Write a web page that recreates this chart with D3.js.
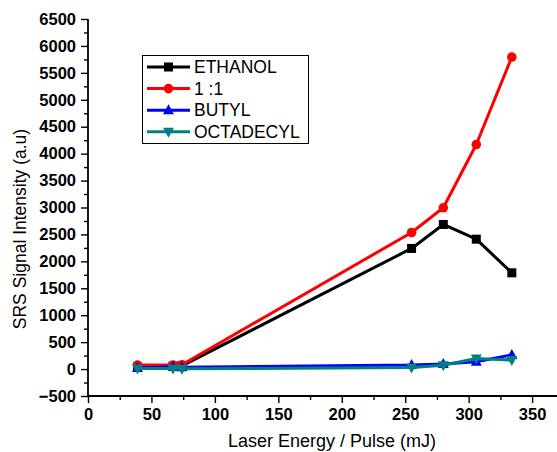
<!DOCTYPE html>
<html><head><meta charset="utf-8">
<script src="https://cdn.jsdelivr.net/npm/d3@7"></script>
<style>body{margin:0;background:#fff}svg{display:block}</style>
</head><body>
<svg id="c" width="557" height="452"></svg>
<script>
const energy = [39, 67, 74, 255, 280, 306, 334];
const ethanol = [40, 55, 60, 2240, 2685, 2412, 1787];
const ratio11 = [75, 75, 80, 2536, 2995, 4169, 5794];
const butyl = [20, 45, 35, 74, 95, 135, 262];
const octadecyl = [12, 12, 5, 28, 70, 195, 167];
const seriesNames = ["ETHANOL", "1 :1", "BUTYL", "OCTADECYL"];
const seriesColors = ["#000000", "#ff0000", "#0000ff", "#008080"];
const seriesShapes = ["square", "circle", "triangle", "triangleDown"];
const xTicks = [0, 50, 100, 150, 200, 250, 300, 350];
const yTicks = [-500, 0, 500, 1000, 1500, 2000, 2500, 3000, 3500, 4000, 4500, 5000, 5500, 6000, 6500];

const seriesData = [ethanol, ratio11, butyl, octadecyl];
const svg = d3.select("#c");
const x = d3.scaleLinear().domain([0, 370]).range([88, 557.5]);
const y = d3.scaleLinear().domain([-500, 6500]).range([396, 19]);

const font = "'Liberation Sans', Arial, sans-serif";
const yAxis = svg.append("g").attr("transform", "translate(88,0)")
  .call(d3.axisLeft(y).tickValues(yTicks).tickSize(7).tickPadding(5).tickFormat(d3.format("d")));
svg.append("g").attr("transform", "translate(88,0)")
  .call(d3.axisLeft(y).tickValues(d3.range(-250, 6500, 500)).tickSize(4).tickFormat(""))
  .select(".domain").remove();
const xAxis = svg.append("g").attr("transform", "translate(0,396)")
  .call(d3.axisBottom(x).tickValues(xTicks).tickSize(7).tickPadding(5));
svg.append("g").attr("transform", "translate(0,396)")
  .call(d3.axisBottom(x).tickValues(d3.range(25, 370, 50)).tickSize(4).tickFormat(""))
  .select(".domain").remove();
svg.selectAll(".domain").attr("stroke", "#000").attr("stroke-width", 1.8);
svg.selectAll(".tick line").attr("stroke", "#000").attr("stroke-width", 1.4);
svg.selectAll(".tick text").style("font-family", font).style("font-weight", "700")
  .style("font-size", "16.5px").attr("fill", "#000");
yAxis.select(".domain").attr("d", `M0,${y(-500)}V${y(6500)}`);
xAxis.select(".domain").attr("d", `M${x(0)},0H557`);

svg.append("text").attr("transform", "translate(25.5,229) rotate(-90)")
  .attr("text-anchor", "middle").style("font-family", font).style("font-size", "17.5px")
  .text("SRS Signal Intensity (a.u)");
svg.append("text").attr("x", 332).attr("y", 447).attr("text-anchor", "middle")
  .style("font-family", font).style("font-size", "18px").text("Laser Energy / Pulse (mJ)");

function marker(g, shape, color, cx, cy) {
  if (shape === "square") g.append("rect").attr("x", cx - 4.5).attr("y", cy - 4.5).attr("width", 9).attr("height", 9).attr("fill", color);
  else if (shape === "circle") g.append("circle").attr("cx", cx).attr("cy", cy).attr("r", 4.8).attr("fill", color);
  else if (shape === "triangle") g.append("path").attr("d", `M${cx},${cy-6}L${cx+5.5},${cy+4}L${cx-5.5},${cy+4}Z`).attr("fill", color);
  else g.append("path").attr("d", `M${cx},${cy+6}L${cx+5.5},${cy-4}L${cx-5.5},${cy-4}Z`).attr("fill", color);
}

const line = d3.line().x((d, i) => x(energy[i])).y(d => y(d));
seriesData.forEach((vals, s) => {
  const g = svg.append("g");
  g.append("path").datum(vals).attr("d", line).attr("fill", "none")
    .attr("stroke", seriesColors[s]).attr("stroke-width", 3).attr("stroke-linejoin", "round");
  vals.forEach((v, i) => marker(g, seriesShapes[s], seriesColors[s], x(energy[i]), y(v)));
});

const lg = svg.append("g");
lg.append("rect").attr("x", 142.5).attr("y", 55.5).attr("width", 166).attr("height", 88)
  .attr("fill", "#fff").attr("stroke", "#000").attr("stroke-width", 1);
seriesNames.forEach((n, i) => {
  const yy = 67 + i * 21.6;
  lg.append("line").attr("x1", 147).attr("x2", 190).attr("y1", yy).attr("y2", yy)
    .attr("stroke", seriesColors[i]).attr("stroke-width", 3);
  marker(lg, seriesShapes[i], seriesColors[i], 168.5, yy);
  lg.append("text").attr("x", 194).attr("y", yy + 6).style("font-family", font)
    .style("font-size", "17.5px").text(n);
});
</script>
</body></html>
